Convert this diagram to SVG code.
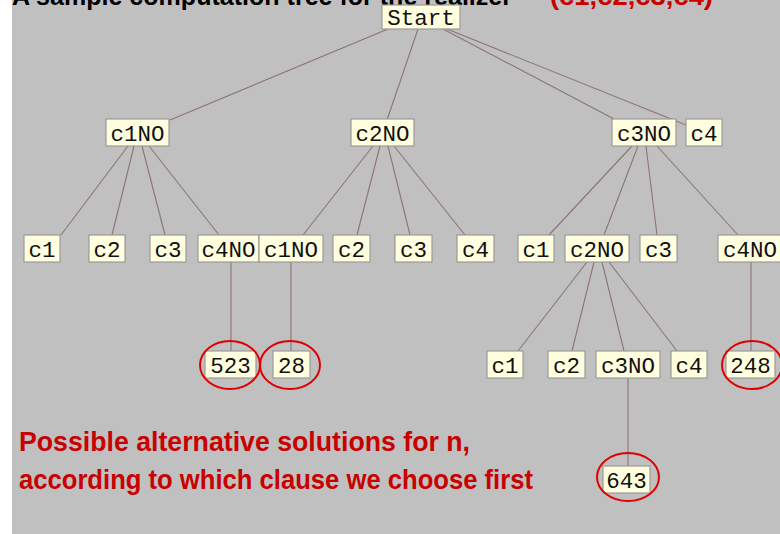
<svg xmlns="http://www.w3.org/2000/svg" width="780" height="534" viewBox="0 0 780 534">
<style>
.bg{fill:#c0c0c0}
.n rect{fill:#ffffe0;stroke:#9a9a9a;stroke-width:1.2}
.n text{font-family:"Liberation Mono","DejaVu Sans Mono",monospace;font-size:22.5px;fill:#111;text-anchor:middle}
.e line{stroke:#8c7474;stroke-width:1.1}
.r{fill:none;stroke:#e00000;stroke-width:2}
.red{font-family:"Liberation Sans Narrow","Liberation Sans",Arial,sans-serif;font-weight:bold;fill:#c80000}
.ttl{font-family:"Liberation Sans Narrow","Liberation Sans",Arial,sans-serif;font-weight:bold;font-size:26px}
</style>
<rect x="0" y="0" width="780" height="534" fill="#ffffff"/>
<rect class="bg" x="12" y="0" width="768" height="534"/>
<text class="ttl" x="12" y="5" fill="#000" textLength="500" lengthAdjust="spacingAndGlyphs">A sample computation tree for the realizer</text>
<text class="ttl" x="550" y="5" fill="#c80000" textLength="163" lengthAdjust="spacingAndGlyphs">(c1,c2,c3,c4)</text>

<g id="connectors" class="e">
<line x1="388" y1="29" x2="170" y2="120"/>
<line x1="418" y1="29" x2="387" y2="120"/>
<line x1="443" y1="29" x2="614" y2="119"/>
<line x1="447" y1="29" x2="686" y2="125"/>
<line x1="128" y1="146" x2="61" y2="235"/>
<line x1="134" y1="146" x2="112" y2="235"/>
<line x1="142" y1="146" x2="165" y2="235"/>
<line x1="149" y1="146" x2="219" y2="235"/>
<line x1="373" y1="146" x2="303" y2="235"/>
<line x1="380" y1="146" x2="357" y2="235"/>
<line x1="388" y1="146" x2="410" y2="235"/>
<line x1="394" y1="146" x2="465" y2="235"/>
<line x1="632" y1="146" x2="549" y2="235"/>
<line x1="638" y1="146" x2="604" y2="235"/>
<line x1="646" y1="146" x2="657" y2="235"/>
<line x1="657" y1="146" x2="738" y2="235"/>
<line x1="587" y1="262" x2="518" y2="351"/>
<line x1="594" y1="262" x2="572" y2="351"/>
<line x1="602" y1="262" x2="624" y2="351"/>
<line x1="609" y1="262" x2="677" y2="351"/>
<line x1="231" y1="262" x2="231" y2="351"/>
<line x1="291" y1="262" x2="291" y2="351"/>
<line x1="751" y1="262" x2="751" y2="351"/>
<line x1="628" y1="378" x2="628" y2="466"/>
</g>

<g id="start" class="n"><rect x="382" y="5" width="78" height="24"/><text x="421" y="25">Start</text></g>

<g id="c1NO" class="n"><rect x="106" y="119" width="63" height="27"/><text x="137.5" y="140.5">c1NO</text></g>
<g id="c2NO" class="n"><rect x="351" y="119" width="63" height="27"/><text x="382.5" y="140.5">c2NO</text></g>
<g id="c3NO" class="n"><rect x="612" y="119" width="64" height="27"/><text x="644" y="140.5">c3NO</text></g>
<g id="c4" class="n"><rect x="686" y="119" width="36" height="27"/><text x="704" y="140.5">c4</text></g>

<g id="c1NO-c1" class="n"><rect x="24" y="235" width="36" height="27"/><text x="42" y="256.5">c1</text></g>
<g id="c1NO-c2" class="n"><rect x="89" y="235" width="36" height="27"/><text x="107" y="256.5">c2</text></g>
<g id="c1NO-c3" class="n"><rect x="150" y="235" width="36" height="27"/><text x="168" y="256.5">c3</text></g>
<g id="c1NO-c4NO" class="n"><rect x="198" y="235" width="61" height="27"/><text x="228.5" y="256.5">c4NO</text></g>
<g id="c2NO-c1NO" class="n"><rect x="259" y="235" width="64" height="27"/><text x="291" y="256.5">c1NO</text></g>
<g id="c2NO-c2" class="n"><rect x="333" y="235" width="37" height="27"/><text x="351.5" y="256.5">c2</text></g>
<g id="c2NO-c3" class="n"><rect x="395" y="235" width="37" height="27"/><text x="413.5" y="256.5">c3</text></g>
<g id="c2NO-c4" class="n"><rect x="457" y="235" width="37" height="27"/><text x="475.5" y="256.5">c4</text></g>
<g id="c3NO-c1" class="n"><rect x="518" y="235" width="36" height="27"/><text x="536" y="256.5">c1</text></g>
<g id="c3NO-c2NO" class="n"><rect x="565" y="235" width="64" height="27"/><text x="597" y="256.5">c2NO</text></g>
<g id="c3NO-c3" class="n"><rect x="640" y="235" width="37" height="27"/><text x="658.5" y="256.5">c3</text></g>
<g id="c3NO-c4NO" class="n"><rect x="718" y="235" width="64" height="27"/><text x="750" y="256.5">c4NO</text></g>

<g id="n523" class="n"><rect x="205" y="351" width="51" height="27"/><text x="230.5" y="372.5">523</text></g>
<g id="n28" class="n"><rect x="273" y="351" width="37" height="27"/><text x="291.5" y="372.5">28</text></g>
<g id="c2NO-c1" class="n"><rect x="487" y="351" width="36" height="27"/><text x="505" y="372.5">c1</text></g>
<g id="c2NO-c2b" class="n"><rect x="548" y="351" width="37" height="27"/><text x="566.5" y="372.5">c2</text></g>
<g id="c2NO-c3NO" class="n"><rect x="596" y="351" width="64" height="27"/><text x="628" y="372.5">c3NO</text></g>
<g id="c2NO-c4b" class="n"><rect x="671" y="351" width="36" height="27"/><text x="689" y="372.5">c4</text></g>
<g id="n248" class="n"><rect x="726" y="351" width="49" height="27"/><text x="750.5" y="372.5">248</text></g>
<g id="n643" class="n"><rect x="603" y="466" width="47" height="27"/><text x="626.5" y="487.5">643</text></g>

<ellipse class="r" cx="230" cy="365" rx="30" ry="24"/>
<ellipse class="r" cx="290" cy="365" rx="30" ry="24"/>
<ellipse class="r" cx="752" cy="365" rx="30" ry="24"/>
<ellipse class="r" cx="628" cy="477" rx="31" ry="24"/>

<text class="red" x="19" y="451" font-size="27" textLength="451" lengthAdjust="spacingAndGlyphs">Possible alternative solutions for n,</text>
<text class="red" x="19" y="489" font-size="27" textLength="514" lengthAdjust="spacingAndGlyphs">according to which clause we choose first</text>
</svg>
